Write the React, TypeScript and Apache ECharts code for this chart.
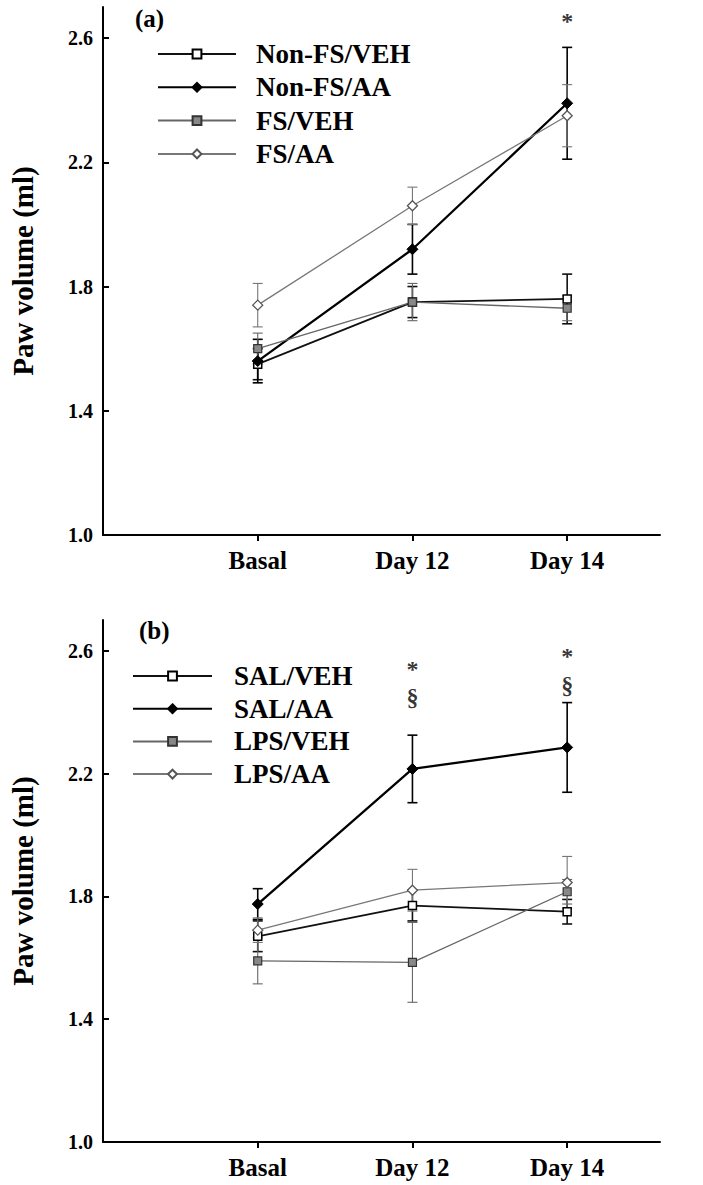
import React, { useEffect, useRef } from "react";
import * as echarts from "echarts";

const categories = ["Basal", "Day 12", "Day 14"];
const yTicks = [1.0, 1.4, 1.8, 2.2, 2.6];

// Panel (a)
const namesA = ["Non-FS/VEH", "Non-FS/AA", "FS/VEH", "FS/AA"];
const nonFsVeh = [1.55, 1.75, 1.76];
const nonFsVehErr = [0.05, 0.05, 0.08];
const nonFsAa = [1.56, 1.92, 2.39];
const nonFsAaErr = [0.07, 0.08, 0.18];
const fsVeh = [1.6, 1.75, 1.73];
const fsVehErr = [0.05, 0.06, 0.04];
const fsAa = [1.74, 2.06, 2.35];
const fsAaErr = [0.07, 0.06, 0.1];

// Panel (b)
const namesB = ["SAL/VEH", "SAL/AA", "LPS/VEH", "LPS/AA"];
const salVeh = [1.67, 1.77, 1.75];
const salVehErr = [0.05, 0.05, 0.04];
const salAa = [1.775, 2.215, 2.285];
const salAaErr = [0.05, 0.11, 0.146];
const lpsVeh = [1.59, 1.585, 1.815];
const lpsVehErr = [0.075, 0.13, 0.04];
const lpsAa = [1.69, 1.82, 1.845];
const lpsAaErr = [0.04, 0.068, 0.085];

// significance marks: [x index, y value, text]
const marksA: [number, number, string][] = [[2, 2.655, "*"]];
const marksB: [number, number, string][] = [
  [1, 2.54, "*"],
  [1, 2.45, "§"],
  [2, 2.583, "*"],
  [2, 2.489, "§"],
];

const FONT = '"Liberation Serif", "Times New Roman", serif';

type Style = {
  symbol: string;
  symbolSize: number;
  fill: string;
  border: string;
  borderWidth: number;
  line: string;
  lineWidth: number;
};

const STYLES: Style[] = [
  { symbol: "rect", symbolSize: 8, fill: "#fff", border: "#000", borderWidth: 1.5, line: "#111", lineWidth: 1.8 },
  { symbol: "diamond", symbolSize: 11, fill: "#000", border: "#000", borderWidth: 1, line: "#000", lineWidth: 2.3 },
  { symbol: "rect", symbolSize: 8, fill: "#888", border: "#333", borderWidth: 1.2, line: "#666", lineWidth: 1.3 },
  { symbol: "diamond", symbolSize: 10, fill: "#fff", border: "#555", borderWidth: 1.3, line: "#777", lineWidth: 1.3 },
];

function lineSeries(name: string, values: number[], s: Style, g: number) {
  return {
    type: "line",
    name,
    xAxisIndex: g,
    yAxisIndex: g,
    data: values.map((v, i) => [i, v]),
    symbol: s.symbol,
    symbolSize: s.symbolSize,
    showSymbol: true,
    lineStyle: { color: s.line, width: s.lineWidth },
    itemStyle: { color: s.fill, borderColor: s.border, borderWidth: s.borderWidth },
    z: 3,
  };
}

function errSeries(name: string, values: number[], errs: number[], s: Style, g: number) {
  const stroke = s.line;
  const lw = s.lineWidth > 1.5 ? 1.6 : 1.1;
  return {
    type: "custom",
    name: name + " SEM",
    coordinateSystem: "cartesian2d",
    xAxisIndex: g,
    yAxisIndex: g,
    silent: true,
    z: 2,
    data: values.map((v, i) => [i, v - errs[i], v + errs[i]]),
    encode: { x: 0, y: [1, 2] },
    renderItem: (params: any, api: any) => {
      const x = api.value(0);
      const lo = api.coord([x, api.value(1)]);
      const hi = api.coord([x, api.value(2)]);
      const w = 5;
      const st = { stroke, lineWidth: lw };
      return {
        type: "group",
        children: [
          { type: "line", shape: { x1: lo[0], y1: lo[1], x2: hi[0], y2: hi[1] }, style: st },
          { type: "line", shape: { x1: lo[0] - w, y1: lo[1], x2: lo[0] + w, y2: lo[1] }, style: st },
          { type: "line", shape: { x1: hi[0] - w, y1: hi[1], x2: hi[0] + w, y2: hi[1] }, style: st },
        ],
      };
    },
  };
}

function markSeries(marks: [number, number, string][], g: number) {
  return {
    type: "scatter",
    xAxisIndex: g,
    yAxisIndex: g,
    symbolSize: 0,
    silent: true,
    z: 4,
    data: marks.map((m) => ({ value: [m[0], m[1]], name: m[2] })),
    label: {
      show: true,
      position: "inside",
      formatter: "{b}",
      fontFamily: FONT,
      fontWeight: "bold",
      fontSize: 24,
      color: "#000",
    },
  };
}

function xAxis(g: number) {
  return {
    type: "value",
    gridIndex: g,
    min: -1,
    max: 2.6,
    splitLine: { show: false },
    axisLine: { show: true, onZero: false, lineStyle: { color: "#000", width: 2 } },
    axisTick: { show: true, inside: false, length: 6, customValues: [0, 1, 2], lineStyle: { color: "#000", width: 2 } },
    axisLabel: {
      customValues: [0, 1, 2],
      formatter: (v: number) => categories[Math.round(v)] ?? "",
      fontFamily: FONT,
      fontWeight: "bold",
      fontSize: 25,
      color: "#000",
      margin: 13,
    },
  };
}

function yAxis(g: number) {
  return {
    type: "value",
    gridIndex: g,
    min: 1.0,
    max: 2.7,
    name: "Paw volume (ml)",
    nameLocation: "middle",
    nameGap: 66,
    nameRotate: 90,
    nameTextStyle: { fontFamily: FONT, fontWeight: "bold", fontSize: 29, color: "#000" },
    splitLine: { show: false },
    axisLine: { show: true, onZero: false, lineStyle: { color: "#000", width: 2 } },
    axisTick: { show: true, inside: true, length: 6, customValues: yTicks, lineStyle: { color: "#000", width: 2 } },
    axisLabel: {
      customValues: yTicks,
      formatter: (v: number) => v.toFixed(1),
      fontFamily: FONT,
      fontWeight: "bold",
      fontSize: 20,
      color: "#000",
      margin: 10,
    },
  };
}

function legend(names: string[], left: number, top: number, width: number, gap: number, pad: number) {
  return {
    data: names,
    orient: "vertical",
    left,
    top,
    padding: 0,
    itemWidth: width,
    itemHeight: 11,
    itemGap: gap,
    selectedMode: false,
    textStyle: {
      fontFamily: FONT,
      fontWeight: "bold",
      fontSize: 27,
      lineHeight: 27,
      color: "#000",
      padding: [0, 0, 0, pad],
    },
  };
}

export default function App() {
  const ref = useRef<HTMLDivElement>(null);
  useEffect(() => {
    if (!ref.current) return;
    const chart = echarts.init(ref.current, null, { renderer: "svg" });
    const dataA = [nonFsVeh, nonFsAa, fsVeh, fsAa];
    const errA = [nonFsVehErr, nonFsAaErr, fsVehErr, fsAaErr];
    const dataB = [salVeh, salAa, lpsVeh, lpsAa];
    const errB = [salVehErr, salAaErr, lpsVehErr, lpsAaErr];
    const series: any[] = [];
    namesA.forEach((n, i) => series.push(errSeries(n, dataA[i], errA[i], STYLES[i], 0)));
    namesB.forEach((n, i) => series.push(errSeries(n, dataB[i], errB[i], STYLES[i], 1)));
    namesA.forEach((n, i) => series.push(lineSeries(n, dataA[i], STYLES[i], 0)));
    namesB.forEach((n, i) => series.push(lineSeries(n, dataB[i], STYLES[i], 1)));
    series.push(markSeries(marksA, 0));
    series.push(markSeries(marksB, 1));

    chart.setOption({
      animation: false,
      backgroundColor: "#fff",
      title: [
        { text: "(a)", left: 135, top: 6, padding: 0, textStyle: { fontFamily: FONT, fontWeight: "bold", fontSize: 25, color: "#000" } },
        { text: "(b)", left: 139, top: 618, padding: 0, textStyle: { fontFamily: FONT, fontWeight: "bold", fontSize: 25, color: "#000" } },
      ],
      grid: [
        { left: 97, top: 7, width: 563, height: 528, containLabel: false },
        { left: 97, top: 620, width: 563, height: 522, containLabel: false },
      ],
      xAxis: [xAxis(0), xAxis(1)],
      yAxis: [yAxis(0), yAxis(1)],
      legend: [legend(namesA, 157, 40.5, 78, 6.3, 15), legend(namesB, 132, 662.5, 79, 5.7, 17)],
      series,
    });
    return () => chart.dispose();
  }, []);
  return (
    <div
      ref={ref}
      style={{ position: "absolute", left: 0, top: 0, width: 703, height: 1185, background: "#fff" }}
    />
  );
}
